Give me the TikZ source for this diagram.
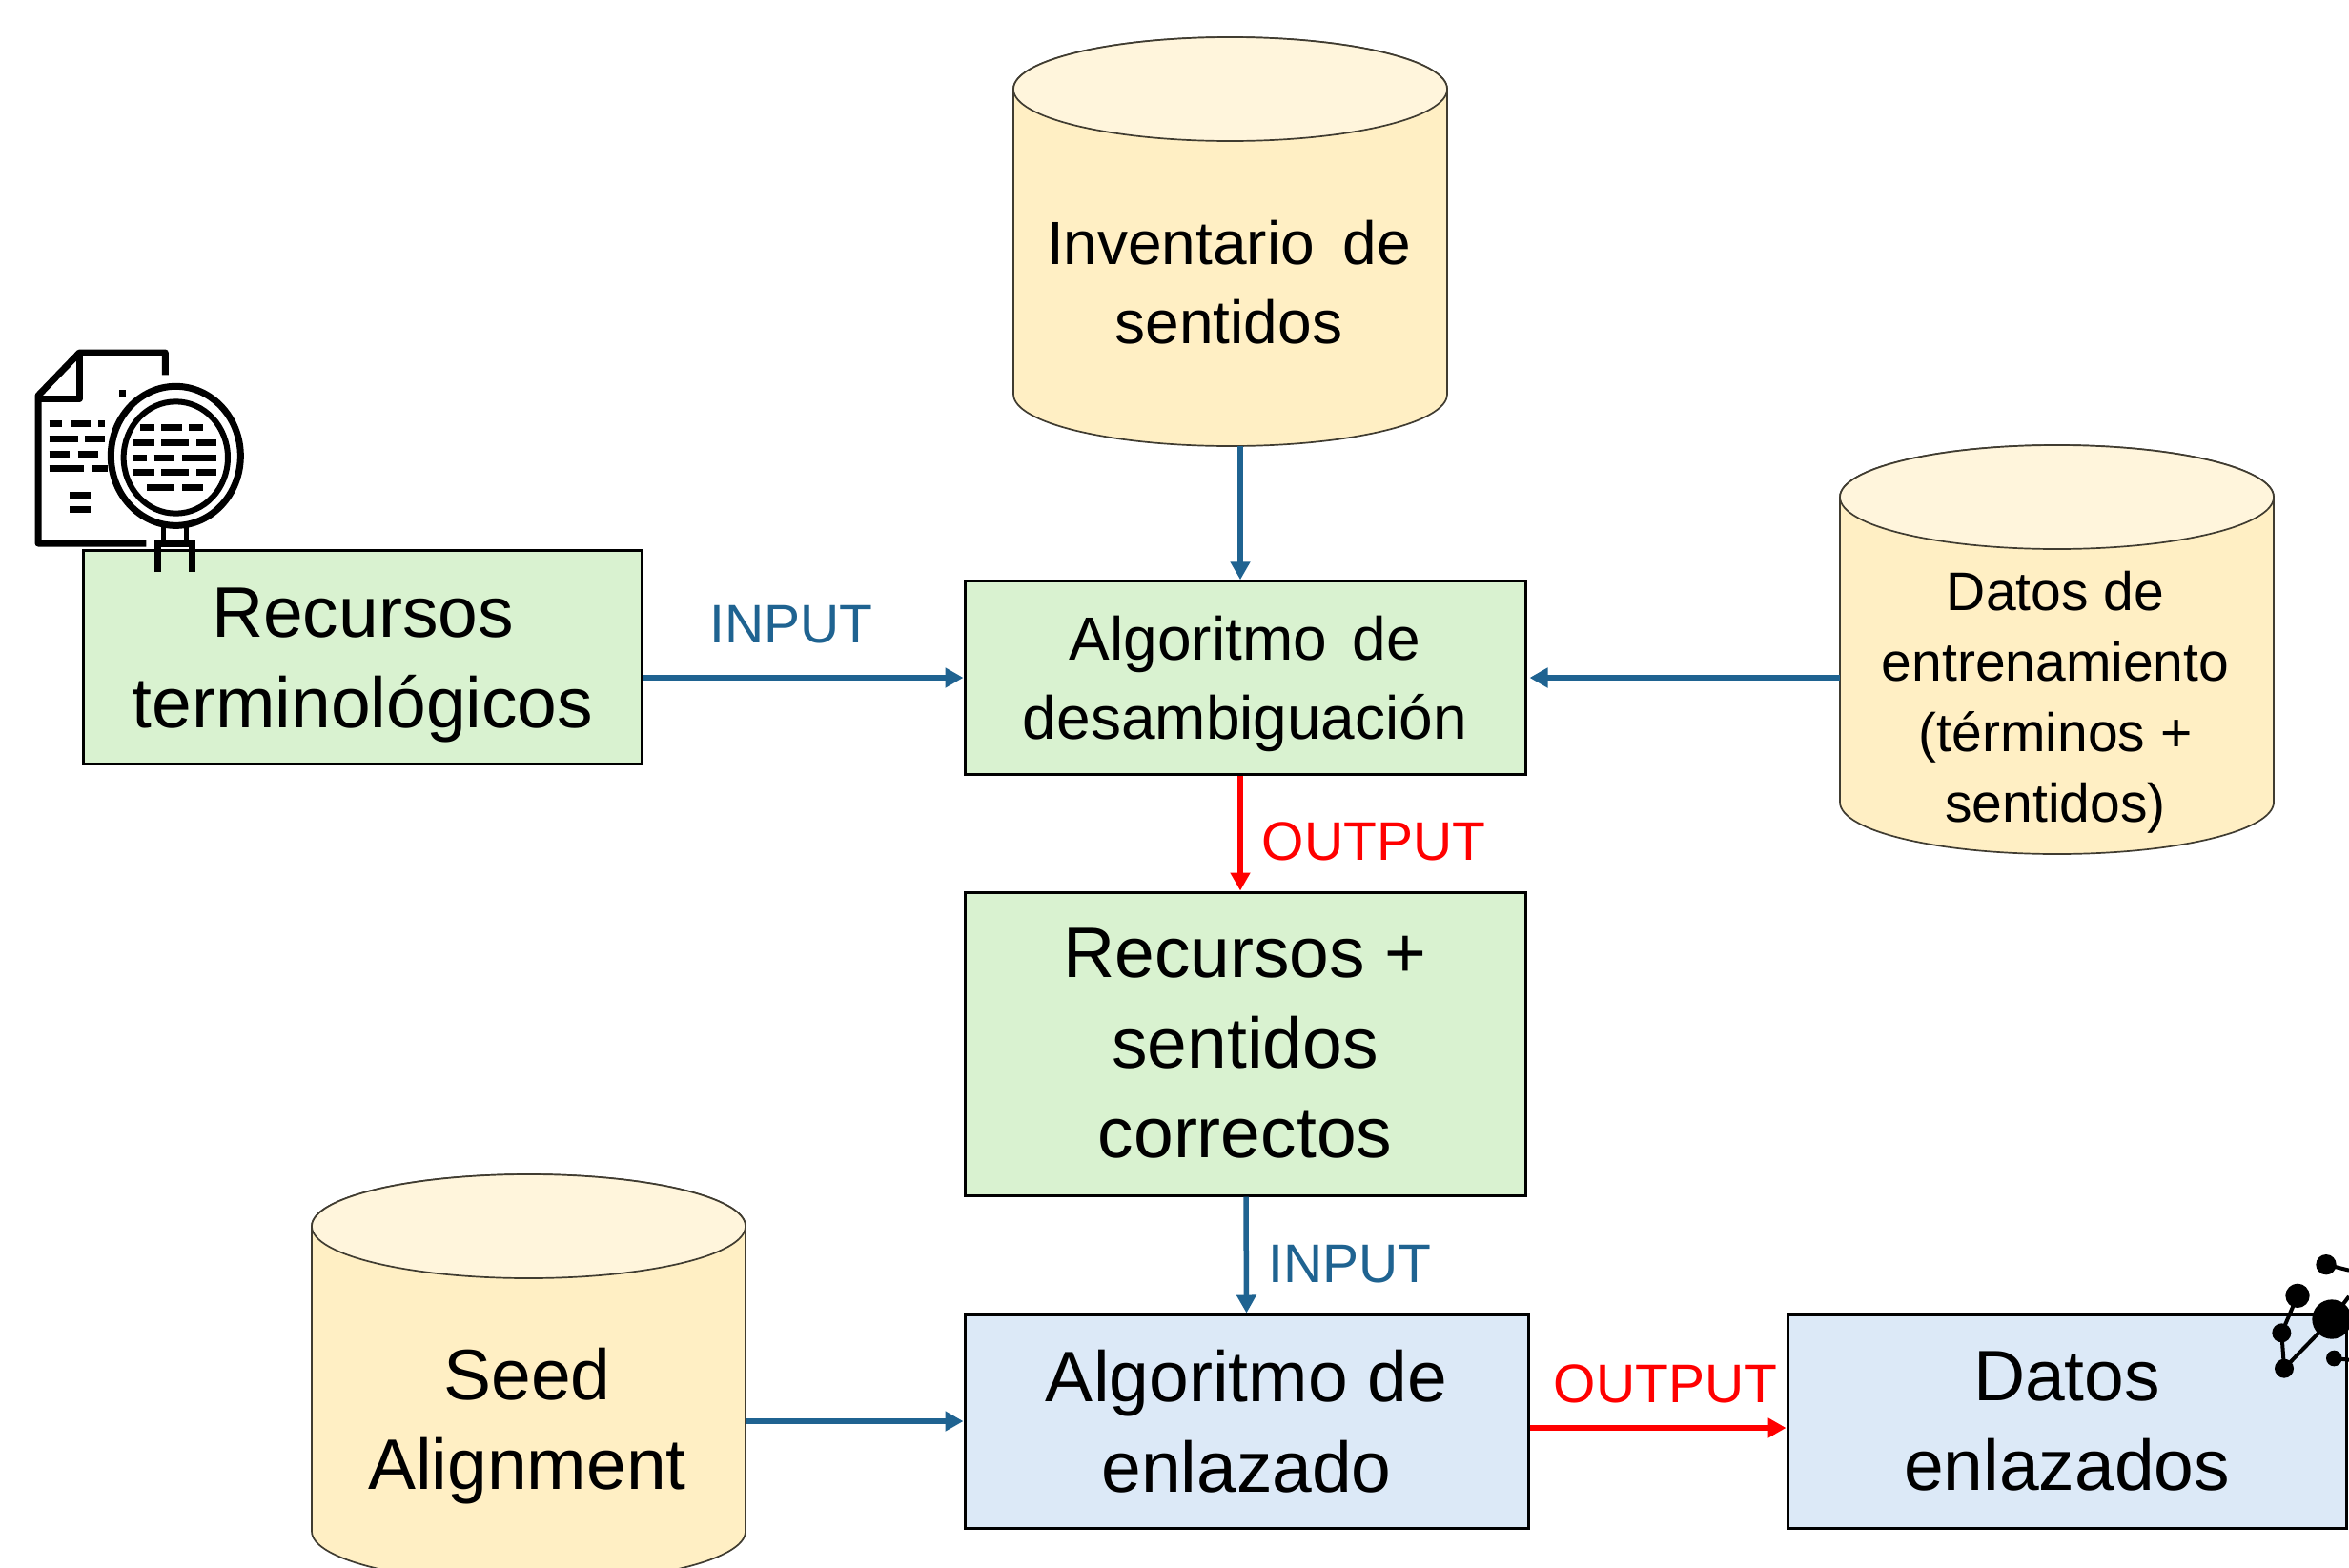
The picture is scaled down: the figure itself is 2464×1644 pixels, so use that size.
\documentclass[tikz,border=0pt]{standalone}
\usepackage{fontspec}
\setmainfont{Liberation Sans}
\usetikzlibrary{arrows.meta}
\definecolor{bluearrow}{HTML}{1F6391}
\definecolor{greenfill}{HTML}{D9F2D0}
\definecolor{bluefill}{HTML}{DCE9F7}
\definecolor{cylbodyc}{HTML}{FFEFC4}
\definecolor{cylendc}{HTML}{FFF5DC}
\tikzset{
  box/.style={draw=black,line width=3pt,inner sep=0pt,align=center,text=black},
  greenbox/.style={box,fill=greenfill},
  bluebox/.style={box,fill=bluefill},
  bigtext/.style={font=\fontsize{75}{94.5}\selectfont},
  midtext/.style={font=\fontsize{64}{83}\selectfont},
  smalltext/.style={font=\fontsize{57}{74}\selectfont},
  cyllabel/.style={align=center,inner sep=0pt,text=black},
  inputlabel/.style={font=\fontsize{57}{66}\selectfont,text=bluearrow,inner sep=0pt},
  outputlabel/.style={font=\fontsize{57}{66}\selectfont,text=red,inner sep=0pt},
  cylline/.style={draw=black!75!cylbodyc,line width=1.7pt},
  bluearr/.style={draw=bluearrow,line width=5.5pt,-{Triangle[length=19pt,width=20pt]}},
  redarr/.style={draw=red,line width=5.5pt,-{Triangle[length=19pt,width=20pt]}},
  iconline/.style={draw=black,line width=7pt},
  icondash/.style={draw=black,line width=7pt},
  netline/.style={draw=black,line width=4pt},
}
\newcommand\cylinderdb[3]{%
  \begin{scope}[shift={(#2,#3)}]
    \path[cylline,fill=cylbodyc] (-227.5,54.5) -- (-227.5,374.5)
      arc[start angle=180,end angle=360,x radius=227.5pt,y radius=54.5pt]
      -- (227.5,54.5)
      arc[start angle=0,end angle=180,x radius=227.5pt,y radius=54.5pt] -- cycle;
    \path[cylline,fill=cylendc] (0,54.5) ellipse[x radius=227.5pt,y radius=54.5pt];
    \node[minimum width=455pt,minimum height=429pt,inner sep=0pt] (#1) at (0,214.5) {};
  \end{scope}}
\newcommand\dashrow[2]{\foreach \a/\b in {#2} \draw[icondash] (\a,#1) -- (\b,#1);}
\begin{document}
\begin{tikzpicture}[x=1pt,y=-1pt]
\clip (0,0) rectangle (2464,1644);
\fill[white] (0,0) rectangle (2464,1644);

% cylinders
\cylinderdb{inv}{1290.5}{39}
\cylinderdb{train}{2157.5}{467}
\cylinderdb{seed}{554.5}{1232}
\node[cyllabel,midtext] (invtext) at (1289,296) {Inventario\hspace{12pt} de\\sentidos};
\node[cyllabel,smalltext] (traintext) at (2156,737) {Datos de\\entrenamiento\\(términos +\\sentidos)};
\node[cyllabel,bigtext] (seedtext) at (553,1496) {Seed\\Alignment};

% boxes
\node[greenbox,minimum width=586pt,minimum height=224pt] (rec) at (380.5,689) {};
\node[cyllabel,bigtext] (rectext) at (380.5,698) {Recursos\\terminológicos};
\node[greenbox,minimum width=588pt,minimum height=202.5pt] (algo) at (1306,711) {};
\node[cyllabel,midtext] (algotext) at (1306,717) {Algoritmo\hspace{9pt} de\\desambiguación};
\node[greenbox,bigtext,minimum width=588pt,minimum height=318pt] (corr) at (1306,1095) {Recursos +\\sentidos\\correctos};
\node[bluebox,bigtext,minimum width=591pt,minimum height=224pt] (enl) at (1307.5,1491) {Algoritmo de\\enlazado};
\node[bluebox,bigtext,minimum width=586pt,minimum height=224pt] (dat) at (2168,1491) {Datos\\enlazados};

% connectors
\draw[bluearr] ([xshift=10.5pt]inv.south) -- ([xshift=-5pt]algo.north);
\draw[bluearr] (rec.east |- algo.west) -- (algo.west);
\draw[bluearr] (train.west |- algo.east) -- ([xshift=3pt]algo.east);
\draw[redarr] ([xshift=-5pt]algo.south) -- ([xshift=-5pt]corr.north);
\draw[bluearr] ([xshift=1pt]corr.south) -- (enl.north);
\draw[bluearr] (seed.east |- enl.west) -- (enl.west);
\draw[redarr] ([yshift=-7pt]enl.east) -- ([yshift=-7pt]dat.west);

% connector labels
\node[inputlabel] (in1) at (830,655) {INPUT};
\node[outputlabel] (out1) at (1441,883) {OUTPUT};
\node[inputlabel] (in2) at (1416,1326) {INPUT};
\node[outputlabel] (out2) at (1747,1452) {OUTPUT};

% document icon
\begin{scope}[shift={(20,350)},scale=1/3]
  \draw[iconline,line join=round] (460,130) -- (460,60) -- (190,60) -- (60,195) -- (60,660) -- (400,660);
  \draw[iconline,line join=round] (190,60) -- (190,205) -- (60,205);
  \fill[black] (314,178) rectangle (336,200);
  \dashrow{283}{95/135,165/225,250/270}
  \dashrow{330}{95/185,208/270}
  \dashrow{378}{95/160,185/250}
  \dashrow{425}{95/205,228/280}
  \dashrow{508}{160/225}
  \dashrow{553}{160/225}
  \draw[iconline,fill=white] (493,385) ellipse[x radius=204,y radius=219];
  \draw[draw=black,line width=6pt] (493,390) ellipse[x radius=164,y radius=176];
  \dashrow{295}{380/425,448/512,535/578}
  \dashrow{342}{358/425,448/535,558/622}
  \dashrow{390}{358/403,425/490,513/622}
  \dashrow{436}{358/425,448/535,558/622}
  \dashrow{484}{403/490,513/578}
  \draw[draw=black,line width=5pt] (455,600) -- (455,655) (525,600) -- (525,655);
  \draw[iconline] (435,750) -- (435,660) -- (545,660) -- (545,750);
\end{scope}

% network icon
\begin{scope}[shift={(2340,1290)},scale=1/3]
  \draw[netline] (300,110) -- (372,128) (210,208) -- (160,325) -- (168,437) -- (318,282) (325,405) -- (372,410) (318,282) -- (372,210);
  \fill[black] (300,110) circle[radius=32] (210,208) circle[radius=38]
    (160,325) circle[radius=30] (168,437) circle[radius=30]
    (318,282) circle[radius=62] (325,405) circle[radius=25];
\end{scope}
\end{tikzpicture}
\end{document}
